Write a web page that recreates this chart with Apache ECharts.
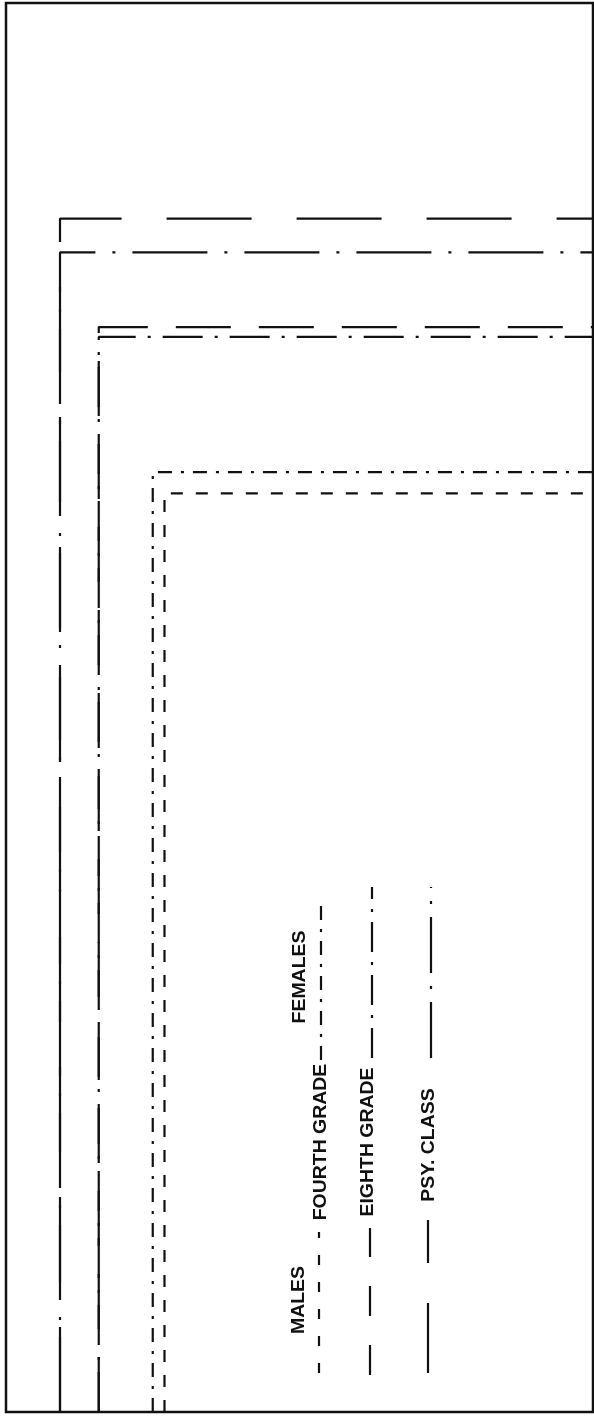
<!DOCTYPE html>
<html>
<head>
<meta charset="utf-8">
<title>Males / Females - Fourth Grade, Eighth Grade, Psy. Class</title>
<script src="https://cdn.jsdelivr.net/npm/echarts/dist/echarts.min.js"></script>
<style>
  html, body { margin: 0; padding: 0; background: #fff; }
  #chart { width: 594px; height: 1418px; }
</style>
</head>
<body>
<div id="chart"></div>
<script>
// series, order: males then females for each group
const seriesNames = [
  'Males Psy. Class', 'Females Psy. Class',
  'Males Eighth Grade', 'Females Eighth Grade',
  'Females Fourth Grade', 'Males Fourth Grade'
];
// where each line rises from the bottom (x axis, 0-100)
const riseAt = [9.2, 9.2, 15.8, 15.8, 25.0, 27.0];
// level where each line turns and runs to the right edge (y axis, 0-100)
const levels = [84.7, 82.3, 77.0, 76.3, 66.7, 65.2];
const axisMax = 100;

// dash patterns (px)
const dashes = [
  [85, 45],
  [75, 17, 3, 17],
  [55, 28],
  [40, 12, 3, 12],
  [14, 9, 3, 9],
  [12, 13]
];
const legendDashes = {
  'Males Fourth Grade': [10, 17],
  'Females Fourth Grade': [14, 9, 3, 9],
  'Males Eighth Grade': [30, 29],
  'Females Eighth Grade': [30, 10, 3, 10],
  'Males Psy. Class': [70, 40],
  'Females Psy. Class': [56, 13, 3, 13]
};

(function () {
  const chart = echarts.init(document.getElementById('chart'), null, { renderer: 'canvas' });
  const ink = '#111';

  const series = seriesNames.map((name, i) => ({
    name: name,
    type: 'line',
    showSymbol: false,
    symbol: 'none',
    silent: true,
    animation: false,
    data: [[riseAt[i], 0], [riseAt[i], levels[i]], [axisMax, levels[i]]],
    lineStyle: { color: ink, width: 2.2, type: dashes[i], cap: 'butt' }
  }));

  // 旋转的图例文字
  const label = (text, x, y) => ({
    type: 'text',
    x: x,
    y: y,
    rotation: Math.PI / 2,
    scaleX: 1.08,
    silent: true,
    style: {
      text: text,
      font: 'bold 18px "Liberation Sans", Arial, sans-serif',
      fill: ink,
      align: 'center',
      verticalAlign: 'middle',
      textAlign: 'center',
      textVerticalAlign: 'middle'
    }
  });
  const sample = (name, x, y1, y2) => ({
    type: 'line',
    silent: true,
    shape: { x1: x, y1: y1, x2: x, y2: y2 },
    style: { stroke: ink, lineWidth: 2.2, lineDash: legendDashes[name] }
  });

  const graphics = [
    label('MALES', 299, 1300),
    label('FEMALES', 300, 977),
    label('FOURTH GRADE', 321, 1142),
    label('EIGHTH GRADE', 368, 1142),
    label('PSY. CLASS', 429, 1145),
    // bottom-up: males sample first, then females
    sample('Males Fourth Grade', 319, 1373, 1232),
    sample('Females Fourth Grade', 321, 1060, 902),
    sample('Males Eighth Grade', 370, 1375, 1228),
    sample('Females Eighth Grade', 372, 1058, 887),
    sample('Males Psy. Class', 428, 1373, 1220),
    sample('Females Psy. Class', 431, 1058, 887)
  ];

  const hiddenAxis = {
    type: 'value',
    min: 0,
    max: axisMax,
    axisLine: { show: false },
    axisTick: { show: false },
    axisLabel: { show: false },
    splitLine: { show: false }
  };

  chart.setOption({
    backgroundColor: '#fff',
    animation: false,
    grid: {
      show: true,
      left: 6, right: 1, top: 3, bottom: 6,
      borderColor: ink,
      borderWidth: 2.5,
      backgroundColor: 'transparent'
    },
    xAxis: Object.assign({}, hiddenAxis),
    yAxis: Object.assign({}, hiddenAxis),
    series: series,
    graphic: { elements: graphics }
  });
})();
</script>
</body>
</html>
